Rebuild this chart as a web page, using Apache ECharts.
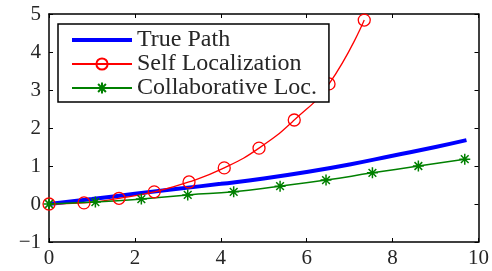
<!DOCTYPE html>
<html>
<head>
<meta charset="utf-8">
<script src="https://cdn.jsdelivr.net/npm/echarts@6/dist/echarts.min.js"></script>
<style>
    html, body { margin: 0; padding: 0; background: #fff; }
    #chart { width: 492px; height: 271px; }
</style>
</head>
<body>
<div id="chart"></div>
<script>
    // data
    const seriesNames = ['True Path', 'Self Localization', 'Collaborative Loc.']
    const truePath = [[0, 0], [1, 0.13], [2, 0.27], [3, 0.4], [4, 0.53], [5, 0.67], [6, 0.84], [7, 1.04], [8, 1.27], [9, 1.5], [9.72, 1.68]]
    const selfLoc = [[0, 0], [0.815, 0.03], [1.63, 0.15], [2.45, 0.32], [3.26, 0.58], [4.08, 0.95], [4.89, 1.47], [5.71, 2.21], [6.52, 3.16], [7.34, 4.84]]
    const collabLoc = [[0, 0], [1.08, 0.05], [2.15, 0.13], [3.23, 0.24], [4.3, 0.32], [5.38, 0.47], [6.45, 0.63], [7.53, 0.82], [8.6, 1.0], [9.68, 1.18]]
    const xTicks = [0, 2, 4, 6, 8, 10]
    const yTicks = [-1, 0, 1, 2, 3, 4, 5]

    const serif = '"Liberation Serif", "DejaVu Serif", serif'
    const asterisk = 'path://M0,-1L0,1M-1,0L1,0M-0.7,-0.7L0.7,0.7M-0.7,0.7L0.7,-0.7'

    const chart = echarts.init(document.getElementById('chart'))

    // inside ticks on every side, like a boxed plot
    function axis(dim, pos, showLabel) {
        const ticks = dim === 'x' ? xTicks : yTicks
        return {
            type: 'value',
            position: pos,
            min: ticks[0],
            max: ticks[ticks.length - 1],
            interval: ticks[1] - ticks[0],
            axisLine: { show: true, onZero: false, lineStyle: { color: '#000', width: 1.5 } },
            axisTick: { show: true, inside: true, length: 4, lineStyle: { color: '#000', width: 1 } },
            splitLine: { show: false },
            axisLabel: {
                show: showLabel,
                fontFamily: serif,
                fontSize: 21,
                color: '#262626',
                margin: dim === 'x' ? 6 : 8,
                formatter: v => (v < 0 ? '\u2212' + Math.abs(v) : String(v))
            }
        }
    }

    const option = {
        animation: false,
        backgroundColor: '#fff',
        grid: { left: 49, right: 10, top: 14, bottom: 29 },
        xAxis: [axis('x', 'bottom', true), axis('x', 'top', false)],
        yAxis: [axis('y', 'left', true), axis('y', 'right', false)],
        legend: {
            // the true path has no marker, so hide its legend symbol
            data: [
                { name: seriesNames[0], itemStyle: { opacity: 0 }, lineStyle: { width: 4, color: '#0000ff' } },
                seriesNames[1],
                seriesNames[2]
            ],
            orient: 'vertical',
            left: 58,
            top: 24,
            padding: [4, 12, 2, 12],
            itemWidth: 60,
            itemHeight: 14,
            itemGap: 0,
            backgroundColor: '#fff',
            borderColor: '#000',
            borderWidth: 1.5,
            textStyle: { fontFamily: serif, fontSize: 24, color: '#262626' }
        },
        series: [{
            name: seriesNames[0],
            type: 'line',
            data: truePath,
            smooth: true,
            symbol: 'none',
            lineStyle: { color: '#0000ff', width: 4 },
            itemStyle: { color: '#0000ff' }
        }, {
            name: seriesNames[1],
            type: 'line',
            data: selfLoc,
            smooth: true,
            symbol: 'circle',
            symbolSize: 12,
            lineStyle: { color: '#ff0000', width: 1.3 },
            itemStyle: { color: 'transparent', borderColor: '#ff0000', borderWidth: 1.3 }
        }, {
            name: seriesNames[2],
            type: 'line',
            data: collabLoc,
            smooth: true,
            symbol: asterisk,
            symbolSize: 11,
            lineStyle: { color: '#008000', width: 1.5 },
            itemStyle: { color: 'transparent', borderColor: '#008000', borderWidth: 1.5 }
        }]
    }
    chart.setOption(option)
</script>
</body>
</html>
